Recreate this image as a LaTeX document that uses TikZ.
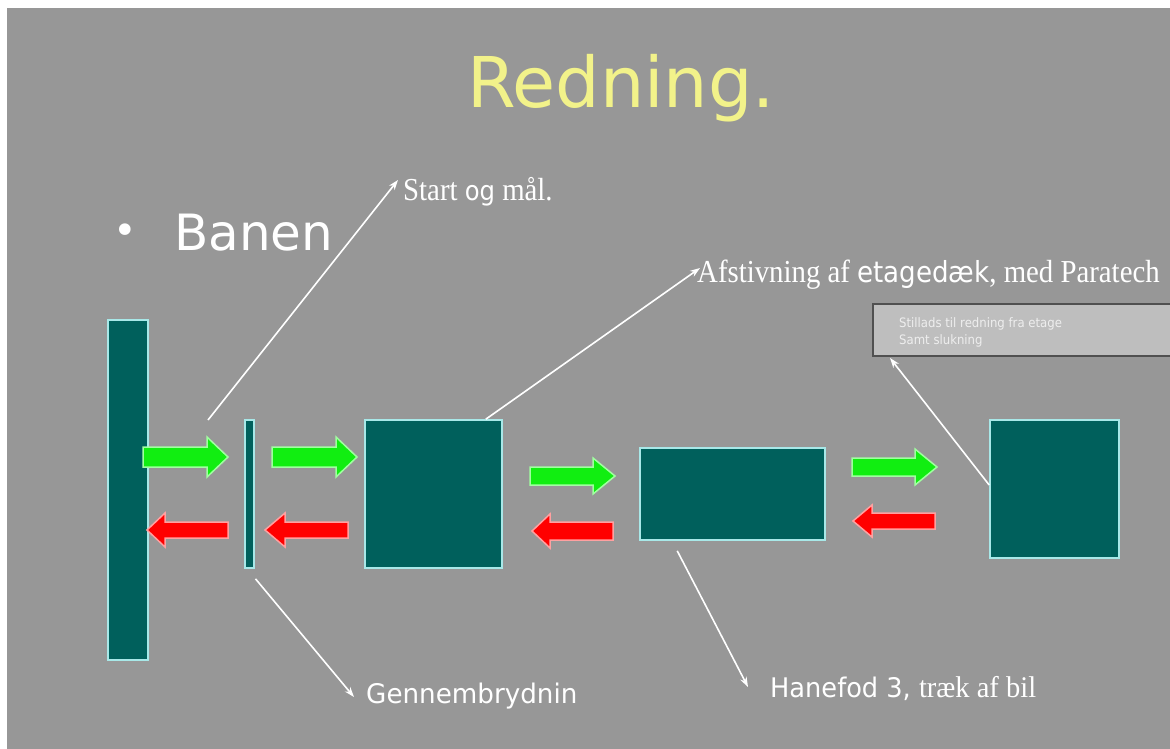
\documentclass[tikz,border=0pt]{standalone}
\usepackage{fontspec}
\setmainfont{Liberation Serif}
\newfontfamily\vfont{DejaVu Sans}
\usetikzlibrary{arrows.meta,calc}
\definecolor{bg}{HTML}{979797}
\definecolor{teal1}{HTML}{00605C}
\definecolor{tealedge}{HTML}{A8E8E8}
\definecolor{gfill}{HTML}{11EE11}
\definecolor{gedge}{HTML}{A0FFA0}
\definecolor{rfill}{HTML}{FF0000}
\definecolor{redge}{HTML}{FFA0A0}
\definecolor{titley}{HTML}{F2F28A}
\definecolor{boxgrey}{HTML}{BEBEBE}
\definecolor{boxedge}{HTML}{505050}
\definecolor{notetxt}{HTML}{EEEEEE}
\newcommand{\blockarrow}[7]{% style, x1, x2, xh, yc, s, h
  \fill[#1] (#2,#5-#6) -- (#4,#5-#6) -- (#4,#5-#7) -- (#3,#5) -- (#4,#5+#7) -- (#4,#5+#6) -- (#2,#5+#6) -- cycle;}
\tikzset{
  block/.style={draw=tealedge, fill=teal1, line width=1.6pt, inner sep=0pt},
  garrow/.style={fill=gfill, draw=gedge, line width=1.5pt, line join=miter},
  rarrow/.style={fill=rfill, draw=redge, line width=1.5pt, line join=miter},
  callout/.style={draw=white, line width=1.6pt, -{Stealth[length=10pt,width=7pt]}},
  lbl/.style={text=white, inner sep=0pt, anchor=base west},
}
\begin{document}
\begin{tikzpicture}[x=1pt,y=-1pt]
\useasboundingbox (0,0) rectangle (1170,749);
\fill[white] (0,0) rectangle (1170,749);
\fill[bg] (7,8) rectangle (1170,749);

% title and bullet
\node[text=titley, inner sep=0pt, anchor=base] (title) at (621,108) {\vfont\fontsize{70}{80}\selectfont Redning.};
\node[text=white, inner sep=0pt, anchor=base] (bullet) at (125,244) {\vfont\fontsize{40}{48}\selectfont •};
\node[text=white, inner sep=0pt, anchor=base west] (banen) at (174,250) {\vfont\fontsize{50}{60}\selectfont Banen};

% blocks
\node[block, minimum width=40pt, minimum height=340pt] (wall) at (128,490) {};
\node[block, minimum width=9pt, minimum height=148pt] (bar) at (249.5,494) {};
\node[block, minimum width=137pt, minimum height=148pt] (sq1) at (433.5,494) {};
\node[block, minimum width=185pt, minimum height=92pt] (rect2) at (732.5,494) {};
\node[block, minimum width=129pt, minimum height=138pt] (sq3) at (1054.5,489) {};

% green arrows
\blockarrow{garrow}{143}{228}{207}{457}{10}{20}
\blockarrow{garrow}{272}{357}{336}{457}{10}{20}
\blockarrow{garrow}{530}{615}{593}{476}{9}{18}
\blockarrow{garrow}{852}{937}{915}{467}{9}{18}
% red arrows
\blockarrow{rarrow}{228}{147}{165}{530}{8}{17}
\blockarrow{rarrow}{348}{265}{285}{530}{8}{17}
\blockarrow{rarrow}{613}{532}{550}{531}{9}{17}
\blockarrow{rarrow}{935}{853}{872}{521}{8}{16}

% grey note box
\node[fill=boxgrey, draw=boxedge, line width=2pt, minimum width=300pt, minimum height=52pt, anchor=north west, inner sep=0pt] (note) at (872,303) {};
\node[text=notetxt, inner sep=0pt, anchor=north west, align=left,
  font=\vfont\fontsize{13}{17}\selectfont] (notetext) at (899,317)
  {\scalebox{0.9}[1]{Stillads til redning fra etage}\\\scalebox{0.9}[1]{Samt slukning}};

% labels
\node[lbl] (start) at (403,200) {\scalebox{0.9}[1]{\fontsize{32}{36}\selectfont Start {\vfont\fontsize{27}{30}\selectfont og} mål.}};
\node[lbl] (afst) at (697,282) {\scalebox{0.9}[1]{\fontsize{32}{36}\selectfont Afstivning af {\vfont\fontsize{29}{30}\selectfont etagedæk}, med Paratech}};
\node[lbl] (genn) at (366,703) {\scalebox{0.97}[1]{\vfont\fontsize{27}{30}\selectfont Gennembrydnin}};
\node[lbl] (hane) at (770,697) {\scalebox{0.95}[1]{{\vfont\fontsize{27}{30}\selectfont Hanefod 3, }\fontsize{30}{34}\selectfont træk af bil}};

% callout connectors
\coordinate (c1) at (208,420);
\coordinate (c1e) at (398,180);
\draw[callout] (c1) -- (c1e);
\coordinate (c2) at ($(sq1.north east)+(-17,0)$);
\coordinate (c2e) at (700,268);
\draw[callout] (c2) -- (c2e);
\coordinate (c3) at ($(sq3.west)+(0,-4)$);
\coordinate (c3e) at (890,358);
\draw[callout] (c3) -- (c3e);
\coordinate (c4) at ($(bar.south)+(6,10)$);
\coordinate (c4e) at (354,697);
\draw[callout] (c4) -- (c4e);
\coordinate (c5) at ($(rect2.south west)+(38,10)$);
\coordinate (c5e) at (748,687);
\draw[callout] (c5) -- (c5e);
\end{tikzpicture}
\end{document}
